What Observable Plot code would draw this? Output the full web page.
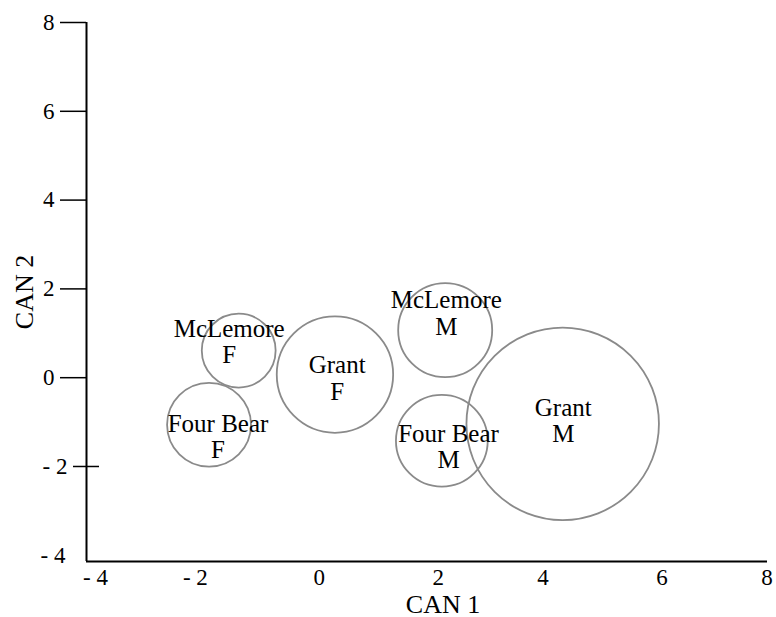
<!DOCTYPE html>
<html>
<head>
<meta charset="utf-8">
<script src="https://cdn.jsdelivr.net/npm/d3@7"></script>
<script src="https://cdn.jsdelivr.net/npm/@observablehq/plot@0.6"></script>
<style>
  html, body { margin: 0; padding: 0; background: #fff; }
  #chart svg { display: block; }
</style>
</head>
<body>
<div id="chart"></div>
<script>
// Data
const sites  = ["McLemore", "Grant", "Four Bear", "McLemore", "Four Bear", "Grant"];
const sexes  = ["F", "F", "F", "M", "M", "M"];
const can1   = [-1.44, 0.28, -1.97, 2.25, 2.19, 4.35];
const can2   = [0.61, 0.07, -1.06, 1.07, -1.42, -1.04];
const radius = [0.66, 1.04, 0.75, 0.84, 0.82, 1.72];   // in CAN units
const labelX = [-1.61, 0.32, -1.81, 2.27, 2.31, 4.36];
const labelY = [0.81, -0.01, -1.32, 1.46, -1.55, -0.96];

const xDomain = [-4.16, 8.01];
const yDomain = [-4.14, 8];
const yTicks = [8, 6, 4, 2, 0];
const yTickShifted = [-2];
const yTickBare = [-4];
const xTicks = [-4, 0, 4, 8];
const xTicksLeft = [-2];
const xTicksRight = [2, 6];
const xTitle = "CAN 1";
const yTitle = "CAN 2";

const rows = sites.map((s, i) => ({
  site: s, sex: sexes[i], x: can1[i], y: can2[i], r: radius[i],
  lx: labelX[i], ly: labelY[i], label: s + "\n" + sexes[i]
}));

const fmt = d => d < 0 ? "- " + Math.abs(d) : String(d);
const width = 776, height = 617;
const mL = 86, mR = 9, mT = 22, mB = 56;
const pxPerUnit = (width - mL - mR) / (xDomain[1] - xDomain[0]);
const tickFont = 23, labelFont = 25, titleFont = 26;

const chart = Plot.plot({
  width, height,
  marginLeft: mL, marginRight: mR, marginTop: mT, marginBottom: mB,
  x: {domain: xDomain},
  y: {domain: yDomain},
  r: {type: "linear", domain: [0, 1], range: [0, pxPerUnit]},
  style: {fontFamily: "'Liberation Serif', 'DejaVu Serif', serif", fontSize: "23px", color: "#000", background: "#fff"},
  marks: [
    Plot.ruleX([xDomain[0]], {stroke: "#000", strokeWidth: 2}),
    Plot.ruleY([yDomain[0]], {stroke: "#000", strokeWidth: 2}),
    Plot.axisY({ticks: yTicks, tickSize: 26, tickPadding: 6, tickFormat: fmt, strokeWidth: 1.5, fontSize: tickFont, label: null}),
    Plot.axisY({ticks: yTickShifted, tickSize: 26, tickPadding: 6, tickFormat: fmt, strokeWidth: 1.5, fontSize: tickFont, dx: 13, label: null}),
    Plot.axisY({ticks: yTickBare, tickSize: 0, tickPadding: 21, tickFormat: fmt, fontSize: tickFont, label: null}),
    Plot.axisX({ticks: xTicks, tickSize: 0, tickPadding: 7, tickFormat: fmt, fontSize: tickFont, label: null}),
    Plot.axisX({ticks: xTicksLeft, tickSize: 0, tickPadding: 7, tickFormat: fmt, fontSize: tickFont, dx: -12, label: null}),
    Plot.axisX({ticks: xTicksRight, tickSize: 0, tickPadding: 7, tickFormat: fmt, fontSize: tickFont, dx: 7, label: null}),
    Plot.dot(rows, {x: "x", y: "y", r: "r", fill: "none", stroke: "#8a8a8a", strokeWidth: 1.8}),
    Plot.text(rows, {x: "lx", y: "ly", text: "label", fill: "#000", lineHeight: 1.06, fontSize: labelFont}),
    Plot.text([xTitle], {frameAnchor: "bottom", textAnchor: "middle", lineAnchor: "bottom", dx: 16, dy: 51, fill: "#000", fontSize: titleFont}),
    Plot.text([yTitle], {frameAnchor: "left", textAnchor: "middle", lineAnchor: "middle", dx: -62, rotate: -90, fill: "#000", fontSize: titleFont})
  ]
});
document.getElementById("chart").appendChild(chart);
</script>
</body>
</html>
